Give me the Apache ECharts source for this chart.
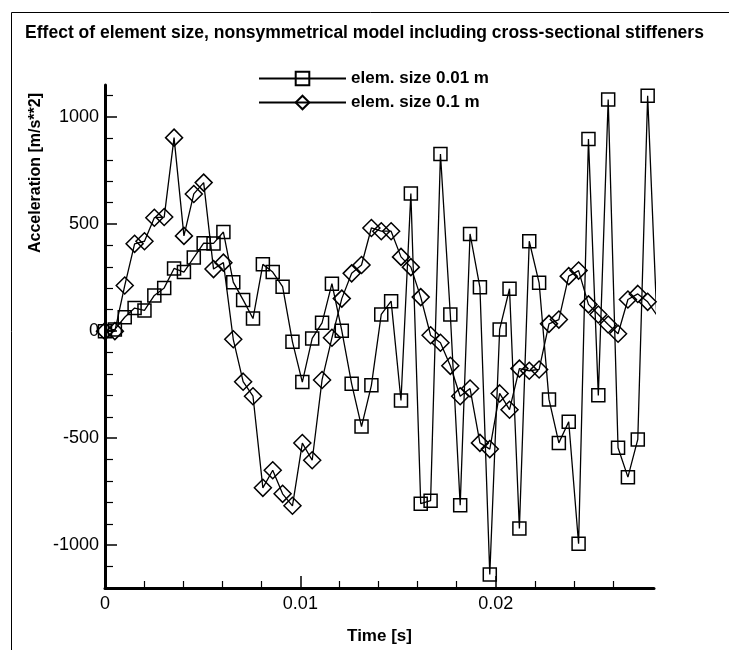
<!DOCTYPE html>
<html><head><meta charset="utf-8">
<script src="https://cdn.jsdelivr.net/npm/echarts@6/dist/echarts.min.js"></script>
<style>html,body{margin:0;padding:0;background:#fff}#c{width:729px;height:657px}</style>
</head><body><div id="c"></div>
<script>
// ---- data ----
const titleText = 'Effect of element size, nonsymmetrical model including cross-sectional stiffeners';
const xTitle = 'Time [s]';
const yTitle = 'Acceleration [m/s**2]';
const seriesNames = ['elem. size 0.01 m', 'elem. size 0.1 m'];

const times = [0, 0.000505, 0.00101, 0.001515, 0.00202, 0.002525, 0.00303, 0.003535, 0.00404, 0.004545,
  0.00505, 0.005555, 0.00606, 0.006565, 0.00707, 0.007575, 0.00808, 0.008585, 0.00909, 0.009595,
  0.0101, 0.010605, 0.01111, 0.011615, 0.01212, 0.012625, 0.01313, 0.013635, 0.01414, 0.014645,
  0.01515, 0.015655, 0.01616, 0.016665, 0.01717, 0.017675, 0.01818, 0.018685, 0.01919, 0.019695,
  0.0202, 0.020705, 0.02121, 0.021715, 0.02222, 0.022725, 0.02323, 0.023735, 0.02424, 0.024745,
  0.02525, 0.025755, 0.02626, 0.026765, 0.02727, 0.027775, 0.02828];

const accFine = [0, 8, 65, 108, 97, 167, 202, 293, 276, 344,
  411, 410, 463, 229, 146, 59, 312, 276, 208, -50,
  -238, -34, 39, 222, 2, -246, -446, -253, 78, 140,
  -324, 643, -806, -792, 828, 78, -813, 454, 205, -1137,
  8, 198, -922, 420, 226, -319, -522, -423, -993, 898,
  -300, 1082, -545, -682, -506, 1100, -20];

const accCoarse = [0, 0, 213, 408, 420, 530, 533, 904, 445, 641,
  694, 290, 320, -38, -236, -304, -732, -650, -760, -816,
  -523, -603, -228, -31, 152, 270, 309, 482, 467, 467,
  347, 299, 159, -19, -54, -162, -304, -268, -522, -551,
  -291, -367, -175, -185, -179, 34, 54, 257, 283, 125,
  78, 31, -12, 148, 174, 137, 70];

const xMin = 0, xMax = 0.0281;
const yMin = -1200, yMax = 1150;
const xMajorTicks = [0, 0.01, 0.02];
const xTickLabels = ['0', '0.01', '0.02'];
const xMinorTicks = [0.002, 0.004, 0.006, 0.008, 0.012, 0.014, 0.016, 0.018, 0.022, 0.024, 0.026];
const yMajorTicks = [-1000, -500, 0, 500, 1000];
const yTickLabels = ['-1000', '-500', '0', '500', '1000'];
const yMinorTicks = [-1100, -900, -800, -700, -600, -400, -300, -200, -100, 100, 200, 300, 400, 600, 700, 800, 900, 1100];

// ---- chart ----
const chart = echarts.init(document.getElementById('c'), null, {renderer: 'canvas'});
const FONT = '"Liberation Sans", Arial, Helvetica, sans-serif';

function pairs(ys) { return times.map((t, i) => [t, ys[i]]); }

const axisCommon = {type: 'value', splitLine: {show: false}};

const option = {
  animation: false,
  backgroundColor: '#fff',
  textStyle: {fontFamily: FONT, color: '#000'},
  title: {
    text: titleText, left: 'center', top: 19,
    textStyle: {fontFamily: FONT, fontSize: 17.5, fontWeight: 'bold', color: '#000'}
  },
  legend: {
    orient: 'vertical', left: 253, top: 65, itemWidth: 87, itemHeight: 17, itemGap: 7,
    data: seriesNames,
    textStyle: {fontFamily: FONT, fontSize: 17, fontWeight: 'bold', color: '#000'}
  },
  grid: {left: 105, right: 75, top: 85, bottom: 69, outerBoundsMode: 'none'},
  xAxis: [
    Object.assign({}, axisCommon, {
      min: xMin, max: xMax, position: 'bottom',
      axisLine: {onZero: false, lineStyle: {color: '#000', width: 3}},
      axisTick: {inside: true, length: 12, lineStyle: {color: '#000', width: 1.5}, customValues: xMajorTicks},
      axisLabel: {customValues: xMajorTicks, margin: 7, fontSize: 18, fontFamily: FONT, color: '#000',
        formatter: v => { const i = xMajorTicks.findIndex(t => Math.abs(t - v) < 1e-9); return i >= 0 ? xTickLabels[i] : ''; }},
      name: xTitle, nameLocation: 'middle', nameGap: 40,
      nameTextStyle: {fontFamily: FONT, fontSize: 17, fontWeight: 'bold', color: '#000'}
    }),
    Object.assign({}, axisCommon, {
      min: xMin, max: xMax, position: 'bottom',
      axisLine: {show: false, onZero: false},
      axisTick: {inside: true, length: 7, lineStyle: {color: '#000', width: 1.2}, customValues: xMinorTicks},
      axisLabel: {show: false}
    })
  ],
  yAxis: [
    Object.assign({}, axisCommon, {
      min: yMin, max: yMax, position: 'left',
      axisLine: {onZero: false, lineStyle: {color: '#000', width: 3}},
      axisTick: {inside: true, length: 12, lineStyle: {color: '#000', width: 1.5}, customValues: yMajorTicks},
      axisLabel: {customValues: yMajorTicks, margin: 6, fontSize: 18, fontFamily: FONT, color: '#000',
        formatter: v => { const i = yMajorTicks.indexOf(v); return i >= 0 ? yTickLabels[i] : ''; }}
    }),
    Object.assign({}, axisCommon, {
      min: yMin, max: yMax, position: 'left',
      axisLine: {show: false, onZero: false},
      axisTick: {inside: true, length: 8, lineStyle: {color: '#000', width: 1.2}, customValues: yMinorTicks},
      axisLabel: {show: false}
    })
  ],
  graphic: [
    {type: 'text', x: 36, y: 173, rotation: Math.PI / 2,
     style: {text: yTitle, font: 'bold 16px ' + FONT, fill: '#000', align: 'center', verticalAlign: 'middle'}},
    {type: 'polyline', shape: {points: [[11.5, 650], [11.5, 12.5], [729, 12.5]]},
     style: {fill: 'none', stroke: '#000', lineWidth: 1}, silent: true}
  ],
  series: [
    {
      type: 'line', name: seriesNames[0], xAxisIndex: 0, yAxisIndex: 0,
      data: pairs(accFine), symbol: 'rect', symbolSize: 13, showAllSymbol: true, clip: true,
      lineStyle: {color: '#000', width: 1.3},
      itemStyle: {color: 'rgba(255,255,255,0)', borderColor: '#000', borderWidth: 1.5},
      emphasis: {disabled: true}
    },
    {
      type: 'line', name: seriesNames[1], xAxisIndex: 0, yAxisIndex: 0,
      data: pairs(accCoarse), symbol: 'diamond', symbolSize: 17, showAllSymbol: true, clip: true,
      lineStyle: {color: '#000', width: 1.3},
      itemStyle: {color: 'rgba(255,255,255,0)', borderColor: '#000', borderWidth: 1.5},
      emphasis: {disabled: true}
    }
  ]
};
chart.setOption(option);
</script>
</body></html>
